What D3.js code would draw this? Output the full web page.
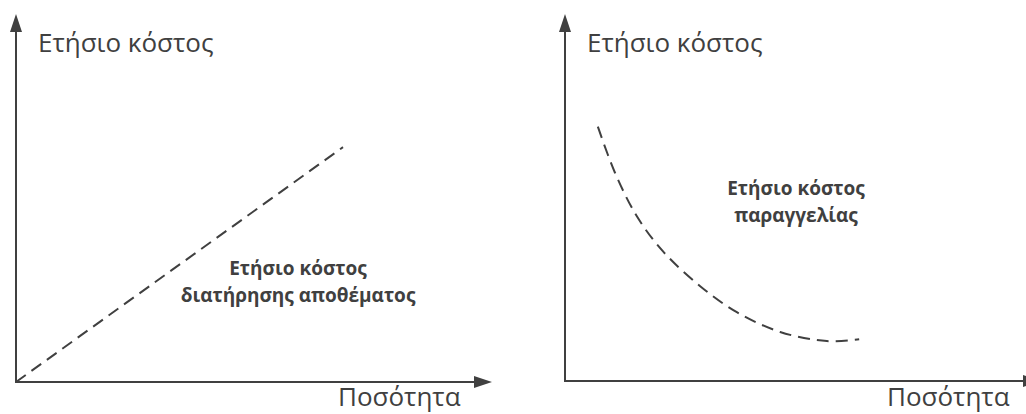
<!DOCTYPE html>
<html>
<head>
<meta charset="utf-8">
<script src="https://cdn.jsdelivr.net/npm/d3@7"></script>
<style>
    body { margin: 0; background: #fff; }
    text { font-family: "Open Sans", sans-serif; fill: #404040; }
</style>
</head>
<body>
<div id="chart-container"></div>
<script>
// chart data
const yAxisTitle = "Ετήσιο κόστος";
const xAxisTitle = "Ποσότητα";

// left panel: holding cost, straight line
const holdingQty = [0, 68.7];
const holdingCost = [0, 64.0];
const holdingLabel = ["Ετήσιο κόστος", "διατήρησης αποθέματος"];

// right panel: ordering cost, falling curve
const orderQty = [6.9, 10.5, 15.1, 20.6, 28.4, 36.1, 45.2, 55.0, 61.8];
const orderCost = [69.5, 56.9, 45.0, 35.4, 25.9, 18.8, 13.4, 10.9, 11.4];
const orderLabel = ["Ετήσιο κόστος", "παραγγελίας"];

const width = 1026;
const height = 414;
const ink = "#404040";

const svg = d3.select("#chart-container").append("svg")
    .attr("width", width)
    .attr("height", height);

function drawPanel(cfg) {
    const x = d3.scaleLinear().domain([0, 100]).range([cfg.left, cfg.left + 476]);
    const y = d3.scaleLinear().domain([0, 100]).range([cfg.bottom, 15]);
    const g = svg.append("g");

    // axes with arrowheads
    g.append("line")
        .attr("x1", x(0)).attr("y1", y(0))
        .attr("x2", x(0)).attr("y2", 28)
        .attr("stroke", ink).attr("stroke-width", 2);
    g.append("path")
        .attr("d", `M${x(0)},14 L${x(0) - 6},32 L${x(0) + 6},32 Z`)
        .attr("fill", ink);

    g.append("line")
        .attr("x1", x(0) - 1).attr("y1", y(0))
        .attr("x2", x(100) - 14).attr("y2", y(0))
        .attr("stroke", ink).attr("stroke-width", 2);
    g.append("path")
        .attr("d", `M${x(100)},${y(0)} L${x(100) - 18},${y(0) - 6} L${x(100) - 18},${y(0) + 6} Z`)
        .attr("fill", ink);

    // axis titles
    g.append("text")
        .attr("x", x(0) + 22).attr("y", 52)
        .style("font-size", "26px")
        .text(yAxisTitle);
    g.append("text")
        .attr("x", x(0) + 322).attr("y", 406)
        .style("font-size", "26px")
        .text(xAxisTitle);

    // dashed cost line
    const pts = cfg.qty.map((q, i) => [q, cfg.cost[i]]);
    const line = d3.line()
        .x(d => x(d[0]))
        .y(d => y(d[1]))
        .curve(cfg.curve);
    g.append("path")
        .datum(pts)
        .attr("d", line)
        .attr("fill", "none")
        .attr("stroke", ink)
        .attr("stroke-width", 2)
        .attr("stroke-dasharray", "12,7");

    // curve label
    g.append("text")
        .attr("text-anchor", "middle")
        .style("font-size", "19px")
        .style("font-weight", "bold")
        .selectAll("tspan")
        .data(cfg.label)
        .join("tspan")
        .attr("x", cfg.labelX)
        .attr("y", (d, i) => cfg.labelY + i * 27)
        .text(d => d);
}

drawPanel({
    left: 16, bottom: 382,
    qty: holdingQty, cost: holdingCost,
    curve: d3.curveLinear,
    label: holdingLabel, labelX: 298, labelY: 275
});

drawPanel({
    left: 565, bottom: 381,
    qty: orderQty, cost: orderCost,
    curve: d3.curveCatmullRom,
    label: orderLabel, labelX: 796, labelY: 195
});
</script>
</body>
</html>
